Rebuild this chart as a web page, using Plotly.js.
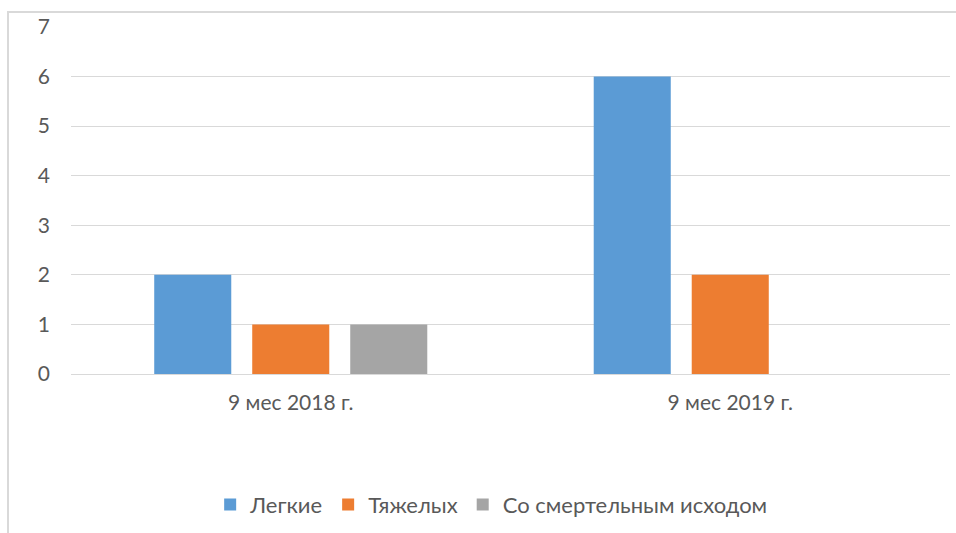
<!DOCTYPE html>
<html><head><meta charset="utf-8">
<script src="https://cdn.plot.ly/plotly-3.0.1.min.js"></script>
<style>
html,body{margin:0;padding:0;background:#fff;overflow:hidden}
#frame{position:absolute;left:7px;top:11px;width:960px;height:540px;border:2px solid #d9d9d9;box-sizing:border-box}
#chart{position:absolute;left:0;top:0;width:956px;height:533px}
</style></head>
<body>
<div id="frame"></div>
<div id="chart"></div>
<script>
const categories = ["9 мес 2018 г.", "9 мес 2019 г."];
const seriesNames = ["Легкие", "Тяжелых", "Со смертельным исходом"];
const legkie = [2, 6];
const tyazhelyh = [1, 2];
const smert = [1, 0];
const colors = ["#5B9BD5", "#ED7D31", "#A5A5A5"];

const values = [legkie, tyazhelyh, smert];
const traces = values.map((v, i) => ({
  type: "bar", x: categories, y: v, name: seriesNames[i],
  marker: {color: colors[i]}, hoverinfo: "skip"
}));

const layout = {
  width: 956, height: 533,
  paper_bgcolor: "rgba(0,0,0,0)", plot_bgcolor: "rgba(0,0,0,0)",
  margin: {l: 71, r: 6, t: 27, b: 159},
  font: {family: "Lato, 'Open Sans', sans-serif", size: 21, color: "#595959"},
  barmode: "group", bargap: 0.331, bargroupgap: 0.214,
  showlegend: true,
  legend: {orientation: "h", x: 0.478, xanchor: "center", y: -0.377, yanchor: "middle",
           font: {size: 22, color: "#595959"}, traceorder: "normal"},
  xaxis: {type: "category", showgrid: false, showline: false, zeroline: false,
          ticks: "", tickfont: {size: 21, color: "#595959"}, ticklabelstandoff: 14},
  yaxis: {range: [0, 7], dtick: 1, showgrid: true, gridcolor: "#d9d9d9", gridwidth: 1,
          zeroline: true, zerolinecolor: "#d9d9d9", zerolinewidth: 1, showline: false,
          ticks: "", tickfont: {size: 21, color: "#595959"}, ticklabelstandoff: 20}
};
Plotly.newPlot("chart", traces, layout, {displayModeBar: false, staticPlot: true});
</script>
</body></html>
